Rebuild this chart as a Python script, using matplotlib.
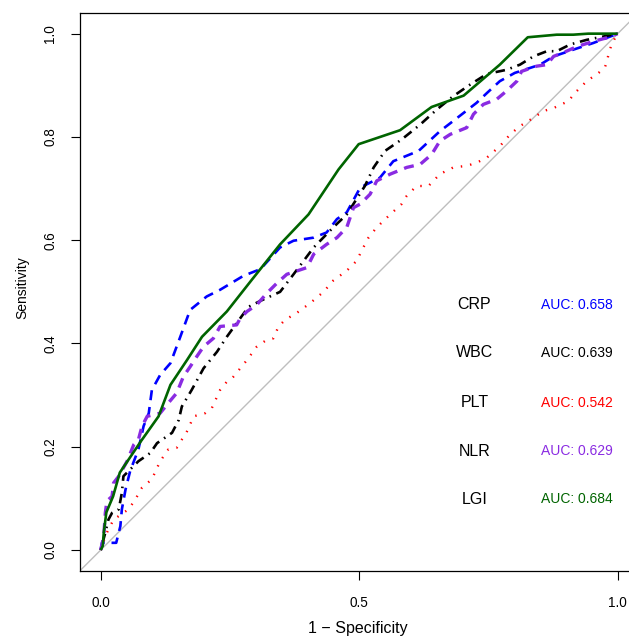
import matplotlib
matplotlib.use("Agg")
import matplotlib.pyplot as plt
from matplotlib import font_manager

# ---------------- data (x = 1 - specificity, y = sensitivity) ----------------
crp_x = [0.0, 0.0025, 0.030, 0.038, 0.041, 0.048, 0.057, 0.073, 0.083, 0.093, 0.099, 0.115,
         0.135, 0.154, 0.173, 0.205, 0.231, 0.276, 0.309, 0.347, 0.373, 0.412, 0.437, 0.457,
         0.476, 0.502, 0.540, 0.566, 0.615, 0.656, 0.682, 0.727, 0.747, 0.772, 0.801, 0.850,
         0.876, 0.914, 0.953, 1.0]
crp_y = [0.0, 0.014, 0.014, 0.046, 0.079, 0.117, 0.153, 0.195, 0.240, 0.265, 0.310, 0.339,
         0.362, 0.413, 0.465, 0.491, 0.504, 0.531, 0.544, 0.586, 0.599, 0.605, 0.615, 0.641,
         0.654, 0.702, 0.721, 0.753, 0.773, 0.811, 0.831, 0.866, 0.885, 0.908, 0.924, 0.940,
         0.956, 0.969, 0.982, 1.0]

wbc_x = [0.0, 0.009, 0.015, 0.022, 0.035, 0.041, 0.044, 0.057, 0.073, 0.096, 0.109, 0.138,
         0.151, 0.157, 0.176, 0.199, 0.225, 0.244, 0.270, 0.286, 0.312, 0.347, 0.373, 0.412,
         0.450, 0.476, 0.511, 0.528, 0.550, 0.582, 0.618, 0.650, 0.682, 0.714, 0.747, 0.785,
         0.811, 0.837, 0.863, 0.882, 0.908, 0.940, 1.0]
wbc_y = [0.0, 0.034, 0.059, 0.072, 0.079, 0.111, 0.143, 0.156, 0.172, 0.188, 0.207, 0.227,
         0.252, 0.278, 0.310, 0.352, 0.384, 0.413, 0.449, 0.471, 0.484, 0.500, 0.534, 0.586,
         0.625, 0.650, 0.705, 0.741, 0.773, 0.795, 0.824, 0.853, 0.879, 0.901, 0.922, 0.930,
         0.940, 0.956, 0.966, 0.966, 0.979, 0.988, 1.0]

plt_x = [0.0, 0.009, 0.015, 0.025, 0.054, 0.067, 0.080, 0.099, 0.115, 0.131, 0.147, 0.167,
         0.180, 0.202, 0.215, 0.231, 0.244, 0.257, 0.270, 0.283, 0.302, 0.321, 0.334, 0.344,
         0.357, 0.379, 0.405, 0.431, 0.450, 0.476, 0.495, 0.508, 0.518, 0.534, 0.560, 0.582,
         0.592, 0.611, 0.634, 0.656, 0.682, 0.708, 0.727, 0.747, 0.772, 0.792, 0.811, 0.837,
         0.856, 0.876, 0.904, 0.921, 0.940, 0.963, 0.975, 0.979, 0.982, 0.988, 0.995, 1.0]
plt_y = [0.0, 0.027, 0.040, 0.059, 0.079, 0.098, 0.121, 0.137, 0.172, 0.195, 0.198, 0.230,
         0.259, 0.265, 0.275, 0.310, 0.326, 0.336, 0.352, 0.368, 0.394, 0.407, 0.410, 0.433,
         0.446, 0.459, 0.478, 0.500, 0.522, 0.541, 0.560, 0.586, 0.605, 0.625, 0.650, 0.670,
         0.686, 0.705, 0.705, 0.728, 0.741, 0.744, 0.750, 0.760, 0.782, 0.805, 0.821, 0.837,
         0.850, 0.856, 0.869, 0.889, 0.908, 0.924, 0.934, 0.946, 0.959, 0.979, 0.992, 1.0]

nlr_x = [0.0, 0.006, 0.009, 0.012, 0.022, 0.025, 0.035, 0.051, 0.064, 0.073, 0.080, 0.090,
         0.115, 0.131, 0.147, 0.160, 0.173, 0.186, 0.199, 0.218, 0.231, 0.263, 0.270, 0.283,
         0.302, 0.321, 0.341, 0.360, 0.399, 0.412, 0.437, 0.457, 0.476, 0.489, 0.502, 0.521,
         0.534, 0.560, 0.592, 0.618, 0.640, 0.656, 0.676, 0.708, 0.721, 0.740, 0.766, 0.785,
         0.805, 0.814, 0.843, 0.863, 0.876, 0.901, 0.921, 0.953, 0.979, 1.0]
nlr_y = [0.0, 0.027, 0.072, 0.095, 0.104, 0.130, 0.143, 0.172, 0.204, 0.214, 0.240, 0.259,
         0.265, 0.285, 0.304, 0.336, 0.355, 0.375, 0.394, 0.410, 0.433, 0.436, 0.449, 0.462,
         0.475, 0.497, 0.517, 0.534, 0.547, 0.573, 0.592, 0.605, 0.625, 0.663, 0.670, 0.689,
         0.715, 0.728, 0.741, 0.747, 0.766, 0.792, 0.805, 0.818, 0.844, 0.863, 0.873, 0.889,
         0.908, 0.927, 0.937, 0.940, 0.956, 0.966, 0.975, 0.985, 0.992, 1.0]

lgi_x = [0.0, 0.004, 0.006, 0.011, 0.024, 0.037, 0.078, 0.112, 0.135, 0.167, 0.196, 0.244,
         0.292, 0.347, 0.402, 0.460, 0.499, 0.579, 0.640, 0.702, 0.772, 0.826, 0.882, 0.914,
         0.943, 1.0]
lgi_y = [0.0, 0.008, 0.034, 0.073, 0.104, 0.150, 0.211, 0.259, 0.320, 0.368, 0.413, 0.462,
         0.523, 0.592, 0.650, 0.737, 0.786, 0.813, 0.858, 0.880, 0.940, 0.993, 0.998, 0.998,
         1.0, 1.0]

names = ["CRP", "WBC", "PLT", "NLR", "LGI"]
aucs = [0.658, 0.639, 0.542, 0.629, 0.684]
x_ticks = [0.0, 0.5, 1.0]
y_ticks = [0.0, 0.2, 0.4, 0.6, 0.8, 1.0]

# ---------------- fonts ----------------
avail = {f.name for f in font_manager.fontManager.ttflist}
if "Liberation Sans Narrow" in avail:
    FONT = "Liberation Sans Narrow"
    k = 1.0
else:
    FONT = "Liberation Sans"
    k = 0.87
plt.rcParams["font.family"] = [FONT, "DejaVu Sans"]

# ---------------- figure ----------------
W, H = 629, 639
fig = plt.figure(figsize=(W / 100, H / 100), dpi=100)
ax = fig.add_axes([80 / W, (H - 570.7) / H, 558.4 / W, 557.7 / H])
ax.set_xlim(-0.04, 1.04)
ax.set_ylim(-0.04, 1.04)

ax.axline((0, 0), (1, 1), color="#BEBEBE", lw=1.0, zorder=1)

series = [
    (crp_x, crp_y, "#0000FF", dict(lw=1.9, dashes=(3.8, 2.6))),
    (wbc_x, wbc_y, "#000000", dict(lw=1.9, dashes=(0.6, 2.2, 3.6, 2.2))),
    (plt_x, plt_y, "#FF0000", dict(lw=1.7, dashes=(0.6, 3.4))),
    (nlr_x, nlr_y, "#8A2BE2", dict(lw=2.4, dashes=(3.0, 2.2))),
    (lgi_x, lgi_y, "#006400", dict(lw=1.9, linestyle="-")),
]
for xs, ys, col, kw in series:
    ax.plot(xs, ys, color=col, solid_capstyle="butt", dash_capstyle="butt", zorder=3, **kw)

label_y = [0.475, 0.382, 0.285, 0.191, 0.098]
for (xs, ys, col, kw), nm, auc, ly in zip(series, names, aucs, label_y):
    ax.text(0.723, ly, nm, ha="center", va="center", fontsize=13.3 * k, color="black")
    ax.text(0.852, ly, f"AUC: {auc:.3f}", ha="left", va="center", fontsize=11.5 * k, color=col)

ax.set_xticks(x_ticks)
ax.set_xticklabels([f"{v:.1f}" for v in x_ticks])
ax.set_yticks(y_ticks)
ax.set_yticklabels([f"{v:.1f}" for v in y_ticks], rotation=90, va="center")
ax.tick_params(axis="both", direction="out", length=6.5, width=0.8, labelsize=11.2 * k,
               colors="black")
ax.tick_params(axis="x", pad=12)
ax.tick_params(axis="y", pad=10)

ax.set_xlabel("1 \u2212 Specificity", fontsize=13.3 * k)
ax.xaxis.set_label_coords(0.497, (570.7 - 629) / 557.7)
ax.xaxis.label.set_va("center")
ax.set_ylabel("Sensitivity", fontsize=11.5 * k)
ax.yaxis.set_label_coords((22 - 80) / 558.4, (570.7 - 288) / 557.7)
ax.yaxis.label.set_va("center")

for sp in ax.spines.values():
    sp.set_linewidth(0.9)
    sp.set_color("black")

fig.savefig("out.png", dpi=100)
